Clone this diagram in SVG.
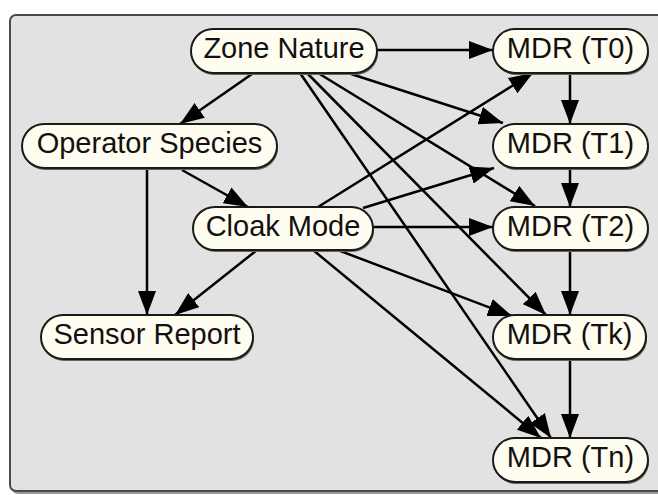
<svg xmlns="http://www.w3.org/2000/svg" width="658" height="495" viewBox="0 0 658 495">
<style>
.frame{fill:#E2E2E2;stroke:#4a4a4a;stroke-width:2}
.node rect.b{fill:#FFFCF0;stroke:#1a1a1a;stroke-width:2}
.node rect.s{fill:#666;stroke:none}
.node text{font-family:"Liberation Sans",Arial,sans-serif;font-size:29px;fill:#111;text-anchor:middle}
.edges line{stroke:#000;stroke-width:2.5;fill:none;marker-end:url(#ah)}
</style>
<defs>
<marker id="ah" markerUnits="userSpaceOnUse" markerWidth="24" markerHeight="18" refX="24" refY="9" orient="auto">
<path d="M0,0 L24,9 L0,18 z" fill="#000"/>
</marker>
</defs>
<rect x="0" y="0" width="658" height="495" fill="#fff"/>
<rect x="12" y="17" width="670" height="477" rx="6" fill="#9a9a9a"/>
<rect class="frame" x="10" y="15" width="670" height="476" rx="6"/>
<g class="edges">
<line x1="377" y1="50" x2="493" y2="50"/>
<line x1="252" y1="74" x2="180" y2="124"/>
<line x1="351" y1="74" x2="503" y2="123"/>
<line x1="318" y1="73" x2="535" y2="206"/>
<line x1="307" y1="73" x2="546" y2="315"/>
<line x1="300" y1="73" x2="551" y2="438"/>
<line x1="318" y1="207" x2="533" y2="73"/>
<line x1="363" y1="208" x2="494" y2="168"/>
<line x1="373" y1="227" x2="493" y2="227"/>
<line x1="335" y1="249" x2="512" y2="316"/>
<line x1="313" y1="250" x2="541" y2="438"/>
<line x1="257" y1="250" x2="175" y2="315"/>
<line x1="147" y1="168" x2="147" y2="315"/>
<line x1="182" y1="170" x2="248" y2="207"/>
<line x1="570" y1="73" x2="570" y2="124"/>
<line x1="570" y1="168" x2="570" y2="207"/>
<line x1="570" y1="250" x2="570" y2="315"/>
<line x1="570" y1="359" x2="570" y2="438"/>
</g>
<g class="node" id="zone_nature"><rect class="s" x="192" y="31" width="186" height="44" rx="22"/><rect class="b" x="191" y="29" width="186" height="44" rx="22"/><text x="284" y="58">Zone Nature</text></g>
<g class="node" id="mdr_t0"><rect class="s" x="494" y="31" width="155" height="44" rx="22"/><rect class="b" x="493" y="29" width="155" height="44" rx="22"/><text x="570.5" y="58">MDR (T0)</text></g>
<g class="node" id="operator_species"><rect class="s" x="23" y="126" width="255" height="44" rx="22"/><rect class="b" x="22" y="124" width="255" height="44" rx="22"/><text x="149.5" y="153">Operator Species</text></g>
<g class="node" id="mdr_t1"><rect class="s" x="494" y="126" width="155" height="44" rx="22"/><rect class="b" x="493" y="124" width="155" height="44" rx="22"/><text x="570.5" y="153">MDR (T1)</text></g>
<g class="node" id="cloak_mode"><rect class="s" x="194" y="209" width="180" height="43" rx="21.5"/><rect class="b" x="193" y="207" width="180" height="43" rx="21.5"/><text x="283" y="236">Cloak Mode</text></g>
<g class="node" id="mdr_t2"><rect class="s" x="494" y="209" width="155" height="43" rx="21.5"/><rect class="b" x="493" y="207" width="155" height="43" rx="21.5"/><text x="570.5" y="236">MDR (T2)</text></g>
<g class="node" id="sensor_report"><rect class="s" x="42" y="317" width="212" height="44" rx="22"/><rect class="b" x="41" y="315" width="212" height="44" rx="22"/><text x="147" y="344">Sensor Report</text></g>
<g class="node" id="mdr_tk"><rect class="s" x="494" y="317" width="153" height="44" rx="22"/><rect class="b" x="493" y="315" width="153" height="44" rx="22"/><text x="569.5" y="344">MDR (Tk)</text></g>
<g class="node" id="mdr_tn"><rect class="s" x="494" y="440" width="155" height="44" rx="22"/><rect class="b" x="493" y="438" width="155" height="44" rx="22"/><text x="570.5" y="467">MDR (Tn)</text></g>
</svg>
